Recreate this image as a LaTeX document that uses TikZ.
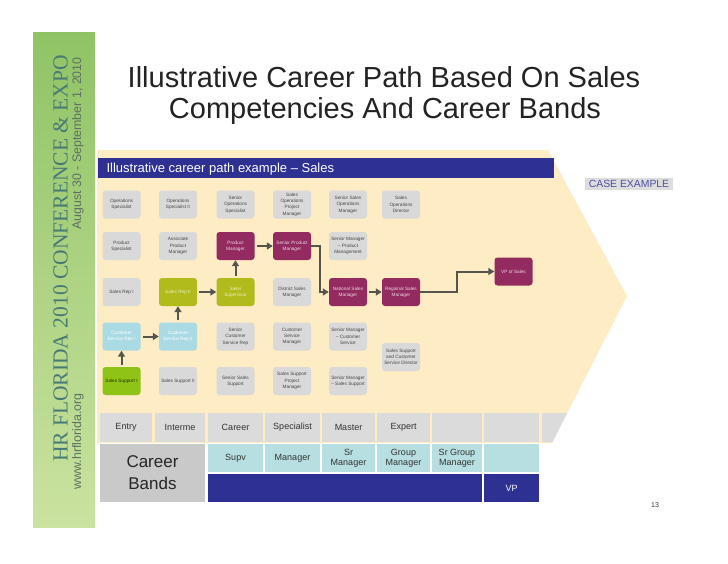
\documentclass[tikz,border=0pt]{standalone}
\usepackage{fontspec}
\setmainfont{Liberation Sans}
\newfontfamily\hrserif{Liberation Serif}
\usetikzlibrary{arrows.meta}
\definecolor{sidegreen}{RGB}{144,195,102}
\definecolor{sidegreenlight}{RGB}{202,227,160}
\definecolor{sideteal}{RGB}{72,122,116}
\definecolor{sidegray}{RGB}{92,112,100}
\definecolor{titlegray}{RGB}{35,35,35}
\definecolor{chevron}{RGB}{254,236,197}
\definecolor{navy}{RGB}{46,49,146}
\definecolor{casegray}{RGB}{221,221,221}
\definecolor{boxgray}{RGB}{217,217,217}
\definecolor{boxtext}{RGB}{70,70,70}
\definecolor{jobmaroon}{RGB}{147,42,96}
\definecolor{jobolive}{RGB}{177,187,28}
\definecolor{joblime}{RGB}{141,196,22}
\definecolor{jobsky}{RGB}{170,218,228}
\definecolor{bandteal}{RGB}{183,223,225}
\definecolor{bandgray}{RGB}{219,219,219}
\definecolor{bandlabel}{RGB}{201,201,201}
\definecolor{arrowgray}{RGB}{85,85,78}

\begin{document}
\begin{tikzpicture}[x=1pt, y=-1pt,
  jobbox/.style={rounded corners=3pt, minimum width=38pt, minimum height=28pt, inner sep=1pt, align=center, fill=boxgray, text=boxtext, font=\fontsize{4.7}{6.3}\selectfont},
  maroonbox/.style={jobbox, fill=jobmaroon, text=white!82!jobmaroon},
  olivebox/.style={jobbox, fill=jobolive, text=white!75!jobolive},
  limebox/.style={jobbox, fill=joblime, text=black!75!joblime},
  skybox/.style={jobbox, fill=jobsky, text=white},
  bandcell/.style={minimum height=29pt, inner sep=0pt, align=center, fill=bandgray, text=black!80, font=\fontsize{9}{10}\selectfont},
  tealcell/.style={bandcell, minimum height=28pt, fill=bandteal},
  navycell/.style={bandcell, minimum height=28pt, fill=navy, text=white},
  sidetext/.style={rotate=90, anchor=base, text=sidegray, font=\fontsize{12.4}{14}\selectfont},
  pathline/.style={-{Triangle[length=6pt,width=7pt]}, line width=2pt, arrowgray, shorten <=2pt}]
  \useasboundingbox (0,0) rectangle (728,563);

  \shade[top color=sidegreen, bottom color=sidegreenlight] (33,32) rectangle (95,527);
  \node[rotate=90, anchor=base, text=sideteal, font=\hrserif\fontsize{21.5}{24}\selectfont] (conf) at (67.5,258.5) {HR FLORIDA 2010 CONFERENCE \& EXPO};
  \node[sidetext] (dates) at (81,143.5) {August 30 - September 1, 2010};
  \node[sidetext] (site) at (81,441.5) {www.hrflorida.org};

  \node[anchor=base, text=titlegray, font=\fontsize{29}{31}\selectfont] (title1) at (384,87) {Illustrative Career Path Based On Sales};
  \node[anchor=base, text=titlegray, font=\fontsize{29}{31}\selectfont] (title2) at (385,118) {Competencies And Career Bands};

  \fill[chevron] (97,150) -- (548,150) -- (627,296) -- (552,443) -- (97,443) -- cycle;
  \fill[navy] (98,158) rectangle (554,178);
  \node[anchor=base west, text=white, font=\fontsize{13}{15}\selectfont] (header) at (103,172.5) {Illustrative career path example -- Sales};
  \node[fill=casegray, text=navy!85!white, minimum width=88pt, minimum height=12pt, inner sep=0pt, font=\fontsize{10.4}{12}\selectfont] (case) at (629,184) {CASE EXAMPLE};

  \node[jobbox] (opsspec) at (121.5,204.5) {Operations\\Specialist};
  \node[jobbox] (opsspecII) at (178,204.5) {Operations\\Specialist II};
  \node[jobbox] (srops) at (235.5,204.5) {Senior\\Operations\\Specialist};
  \node[jobbox] (opspm) at (292,204.5) {Sales\\Operations\\Project\\Manager};
  \node[jobbox] (sropsmgr) at (348,204.5) {Senior Sales\\Operations\\Manager};
  \node[jobbox] (opsdir) at (401,204.5) {Sales\\Operations\\Director};

  \node[jobbox] (prodspec) at (121.5,246) {Product\\Specialist};
  \node[jobbox] (assocpm) at (178,246) {Associate\\Product\\Manager};
  \node[maroonbox] (pm) at (235.5,246) {Product\\Manager};
  \node[maroonbox] (srpm) at (292,246) {Senior Product\\Manager};
  \node[jobbox] (srmgrprod) at (348,246) {Senior Manager\\-- Product\\Management};

  \node[jobbox] (repI) at (121.5,292) {Sales Rep I};
  \node[olivebox] (repII) at (178,292) {Sales Rep II};
  \node[olivebox] (supervisor) at (235.5,292) {Sales\\Supervisor};
  \node[jobbox] (district) at (292,292) {District Sales\\Manager};
  \node[maroonbox] (national) at (348,292) {National Sales\\Manager};
  \node[maroonbox] (regional) at (401,292) {Regional Sales\\Manager};
  \node[maroonbox] (vp) at (513.5,271.5) {VP of Sales};

  \node[skybox] (csrI) at (121.5,336.5) {Customer\\Service Rep I};
  \node[skybox] (csrII) at (178,336.5) {Customer\\Service Rep II};
  \node[jobbox] (srcsr) at (235.5,336.5) {Senior\\Customer\\Service Rep};
  \node[jobbox] (csmgr) at (292,336.5) {Customer\\Service\\Manager};
  \node[jobbox] (srmgrcs) at (348,336.5) {Senior Manager\\-- Customer\\Service};
  \node[jobbox] (supdir) at (401,357) {Sales Support\\and Customer\\Service Director};

  \node[limebox] (suppI) at (121.5,381) {Sales Support I};
  \node[jobbox] (suppII) at (178,381) {Sales Support II};
  \node[jobbox] (srsupp) at (235.5,381) {Senior Sales\\Support};
  \node[jobbox] (supppm) at (292,381) {Sales Support\\Project\\Manager};
  \node[jobbox] (srmgrsupp) at (348,381) {Senior Manager\\-- Sales Support};

  \draw[pathline] (suppI.north) -- (csrI.south);
  \draw[pathline] (csrI.east) -- (csrII.west);
  \draw[pathline] (csrII.north) -- (repII.south);
  \draw[pathline] (repII.east) -- (supervisor.west);
  \draw[pathline] (supervisor.north) -- (pm.south);
  \draw[pathline] (pm.east) -- (srpm.west);
  \draw[pathline, shorten <=0pt] (srpm.east) -- ++(9,0) |- (national.west);
  \draw[pathline] (national.east) -- (regional.west);
  \draw[pathline, shorten <=0pt] (regional.east) -- ++(37,0) |- (vp.west);

  \node[bandcell, minimum width=52pt] (entry) at (126,427.5) {Entry};
  \node[bandcell, minimum width=50pt] (inter) at (180,427.5) {Interme};
  \node[bandcell, minimum width=55pt] (career) at (235.5,427.5) {Career};
  \node[bandcell, minimum width=55pt] (specialist) at (292.5,427.5) {Specialist};
  \node[bandcell, minimum width=53pt] (master) at (348.5,427.5) {Master};
  \node[bandcell, minimum width=53pt] (expert) at (403.5,427.5) {Expert};
  \node[bandcell, minimum width=50pt] (blankA) at (457,427.5) {};
  \node[bandcell, minimum width=55pt] (blankB) at (511.5,427.5) {};
  \fill[bandgray] (542,413) -- (567,413) -- (552.5,442) -- (542,442) -- cycle;

  \node[bandcell, minimum width=105pt, minimum height=58pt, fill=bandlabel, text=black!85, font=\fontsize{17}{22}\selectfont] (bands) at (152.5,473) {Career\\Bands};
  \node[tealcell, minimum width=55pt] (supv) at (235.5,458) {Supv};
  \node[tealcell, minimum width=55pt] (manager) at (292.5,458) {Manager};
  \node[tealcell, minimum width=53pt] (srmanager) at (348.5,458) {Sr\\Manager};
  \node[tealcell, minimum width=53pt] (grpmanager) at (403.5,458) {Group\\Manager};
  \node[tealcell, minimum width=50pt] (srgrpmanager) at (457,458) {Sr Group\\Manager};
  \node[tealcell, minimum width=55pt] (blankteal) at (511.5,458) {};
  \node[navycell, minimum width=274pt] (navyband) at (345,488) {};
  \node[navycell, minimum width=55pt] (vpband) at (511.5,488) {VP};

  \node[text=black!80, font=\fontsize{7}{8}\selectfont] (pagenum) at (655,505) {13};
\end{tikzpicture}
\end{document}
